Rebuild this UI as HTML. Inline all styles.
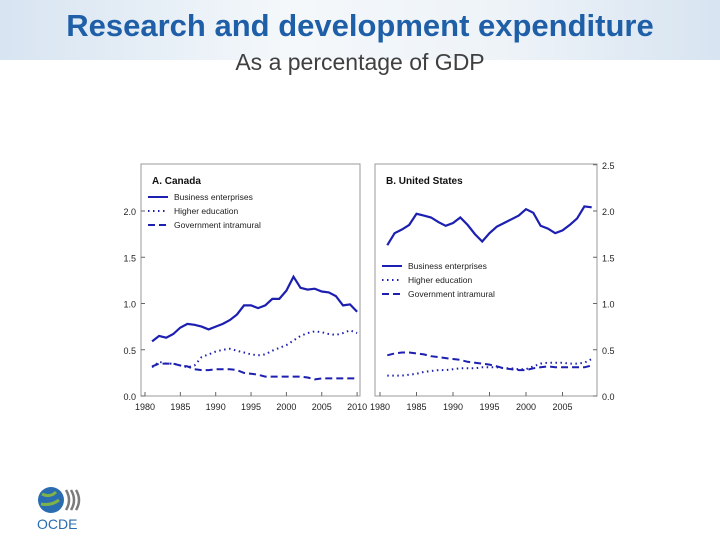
<!DOCTYPE html>
<html><head><meta charset="utf-8"><style>
body{margin:0;width:720px;height:540px;background:#fff;overflow:hidden;font-family:"Liberation Sans",sans-serif;position:relative}
.banner{position:absolute;left:0;top:0;width:720px;height:60px;background:linear-gradient(90deg,#d7e4f1,#f4f8fb 40%,#eef3f8 70%,#d7e4f1)}
.title{position:absolute;top:8px;left:0;width:720px;text-align:center;font-family:"Liberation Sans",sans-serif;font-weight:bold;font-size:31px;color:#1f5fa8}
.sub{position:absolute;top:49px;left:0;width:720px;text-align:center;font-size:23px;color:#404040}
</style></head><body>
<div class="banner"></div>
<div class="title">Research and development expenditure</div>
<div class="sub">As a percentage of GDP</div>
<svg id="c" width="720" height="540" style="position:absolute;left:0;top:0"></svg>
<div style="position:absolute;left:36px;top:484px;width:50px;height:50px">
<svg width="50" height="50"><circle cx="15" cy="16" r="13" fill="#2a6cb0"/><path d="M6 10q8 4 14-2M5 20q10 2 18-4" stroke="#7fb24a" stroke-width="3" fill="none"/><path d="M30 6q6 10 0 20M35 6q6 10 0 20M40 6q6 10 0 20" stroke="#7a7a7a" stroke-width="2.5" fill="none"/><text x="1" y="45" font-size="14" fill="#2a6cb0" font-family="Liberation Sans,sans-serif">OCDE</text></svg></div>
<script>
const caYears=[1981,1982,1983,1984,1985,1986,1987,1988,1989,1990,1991,1992,1993,1994,1995,1996,1997,1998,1999,2000,2001,2002,2003,2004,2005,2006,2007,2008,2009,2010];
const caBusiness=[0.59,0.65,0.63,0.67,0.74,0.78,0.77,0.75,0.72,0.75,0.78,0.82,0.88,0.98,0.98,0.95,0.98,1.05,1.05,1.14,1.29,1.17,1.15,1.16,1.13,1.12,1.08,0.98,0.99,0.91];
const caHigher=[0.31,0.37,0.35,0.35,0.33,0.31,0.33,0.42,0.45,0.48,0.50,0.51,0.49,0.47,0.45,0.44,0.45,0.49,0.52,0.55,0.60,0.65,0.68,0.70,0.69,0.67,0.66,0.68,0.71,0.68];
const caGov=[0.32,0.35,0.35,0.35,0.33,0.32,0.29,0.28,0.28,0.29,0.29,0.29,0.28,0.25,0.24,0.23,0.21,0.21,0.21,0.21,0.21,0.21,0.20,0.18,0.19,0.19,0.19,0.19,0.19,0.19];
const usYears=[1981,1982,1983,1984,1985,1986,1987,1988,1989,1990,1991,1992,1993,1994,1995,1996,1997,1998,1999,2000,2001,2002,2003,2004,2005,2006,2007,2008,2009];
const usBusiness=[1.63,1.76,1.80,1.85,1.97,1.95,1.93,1.88,1.84,1.87,1.93,1.85,1.75,1.67,1.76,1.83,1.87,1.91,1.95,2.02,1.98,1.84,1.81,1.76,1.79,1.85,1.92,2.05,2.04];
const usHigher=[0.22,0.22,0.22,0.23,0.24,0.26,0.27,0.28,0.28,0.29,0.30,0.30,0.30,0.31,0.31,0.31,0.30,0.30,0.29,0.29,0.32,0.35,0.36,0.36,0.36,0.35,0.35,0.36,0.40];
const usGov=[0.44,0.46,0.47,0.47,0.46,0.45,0.43,0.42,0.41,0.40,0.39,0.37,0.36,0.35,0.34,0.32,0.30,0.29,0.28,0.28,0.30,0.31,0.32,0.31,0.31,0.31,0.31,0.31,0.33];
const yTicks=[0,0.5,1.0,1.5,2.0,2.5];
const caXTicks=[1980,1985,1990,1995,2000,2005,2010];
const usXTicks=[1980,1985,1990,1995,2000,2005];
const seriesNames=["Business enterprises","Higher education","Government intramural"];

const svg=document.getElementById('c');const NS='http://www.w3.org/2000/svg';
function mk(t,a,p){const e=document.createElementNS(NS,t);for(const k in a)e.setAttribute(k,a[k]);(p||svg).appendChild(e);return e;}
const y=v=>396-v*92.5;
const xCA=yr=>145+(yr-1980)*7.07;
const xUS=yr=>380+(yr-1980)*7.3;
const col='#1c1fb0';
const dashes=[null,'1.5,3.5','7,4'];
function panel(x0,x1,xf,years,data,label,xt,leftAxis,legX,legY,nm){
  const f=mk('rect',{x:x0,y:164,width:x1-x0,height:232,fill:'none',stroke:'#9a9a9a','stroke-width':1});
  
  
  yTicks.forEach(v=>{
    if(leftAxis&&v<2.5){const t=mk('text',{x:x0-5,y:y(v)+4,'text-anchor':'end','font-size':9,fill:'#222'});t.textContent=v.toFixed(1);
      
      
      mk('line',{x1:x0,x2:x0+4,y1:y(v),y2:y(v),stroke:'#666'});}
    if(!leftAxis){const t=mk('text',{x:x1+5,y:y(v)+4,'font-size':9,fill:'#222'});t.textContent=v.toFixed(1);
      
      
      mk('line',{x1:x1-4,x2:x1,y1:y(v),y2:y(v),stroke:'#666'});}
  });
  xt.forEach(v=>{const t=mk('text',{x:xf(v),y:410,'text-anchor':'middle','font-size':9,fill:'#222'});t.textContent=v;
    
    
    mk('line',{x1:xf(v),x2:xf(v),y1:396,y2:392,stroke:'#666'});});
  const tl=mk('text',{x:x0+11,y:184,'font-size':10,'font-weight':'bold',fill:'#111'});tl.textContent=label;
  
  
  data.forEach((d,i)=>{
    const pts=d.map((v,j)=>xf(years[j]).toFixed(1)+','+y(v).toFixed(1)).join(' ');
    const a={points:pts,fill:'none',stroke:col,'stroke-width':i==0?2.2:2};if(dashes[i])a['stroke-dasharray']=dashes[i];
    const pl=mk('polyline',a);
    
    
    const ly=legY+i*14;const la={x1:legX,x2:legX+20,y1:ly,y2:ly,stroke:col,'stroke-width':2};if(dashes[i])la['stroke-dasharray']=dashes[i];
    mk('line',la);
    const lt=mk('text',{x:legX+26,y:ly+3,'font-size':8.5,fill:'#222'});lt.textContent=seriesNames[i];
    
    
  });
}
panel(141,360,xCA,caYears,[caBusiness,caHigher,caGov],'A. Canada',caXTicks,true,148,197,'canada');
panel(375,597,xUS,usYears,[usBusiness,usHigher,usGov],'B. United States',usXTicks,false,382,266,'us');
</script>
</body></html>
